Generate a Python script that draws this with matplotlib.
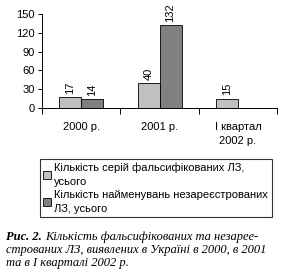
import numpy as np
import matplotlib.pyplot as plt

categories = ['2000 р.', '2001 р.', 'І квартал\n2002 р.']
series_falsified = [17, 40, 15]
series_unregistered = [14, 132, None]
labels = ['Кількість серій фальсифікованих ЛЗ,\nусього',
          'Кількість найменувань незареєстрованих\nЛЗ, усього']

plt.rcParams['font.family'] = ['Liberation Sans', 'DejaVu Sans']
plt.rcParams['font.size'] = 8

fig = plt.figure(figsize=(2.98, 2.76), dpi=100)
ax = fig.add_axes([0.141, 0.609, 0.789, 0.34])

x = np.arange(len(categories))
w = 0.28
vals2 = [v if v is not None else 0 for v in series_unregistered]
b1 = ax.bar(x - w / 2, series_falsified, w, color='#c0c0c0', edgecolor='black', linewidth=0.6)
b2 = ax.bar(x + w / 2, vals2, w, color='#808080', edgecolor='black', linewidth=0.6)

for rect, v in zip(b1, series_falsified):
    ax.text(rect.get_x() + rect.get_width() / 2, v + 5, str(v), rotation=90,
            ha='center', va='bottom', fontsize=8)
for rect, v in zip(b2, series_unregistered):
    if v is None:
        continue
    ax.text(rect.get_x() + rect.get_width() / 2, v + 5, str(v), rotation=90,
            ha='center', va='bottom', fontsize=8)

ax.set_xlim(-0.5, 2.5)
ax.set_ylim(0, 150)
ax.set_yticks([0, 30, 60, 90, 120, 150])
ax.set_xticks([-0.5, 0.5, 1.5, 2.5])
ax.set_xticklabels([])
ax.set_xticks(x, minor=True)
ax.set_xticklabels(categories, minor=True, linespacing=1.5, va='top')
ax.tick_params(axis='x', which='minor', length=0, pad=10)
ax.tick_params(axis='x', which='major', length=4, direction='out', width=0.7)
ax.tick_params(axis='y', length=3, width=0.7, pad=2)
ax.spines['top'].set_visible(False)
ax.spines['right'].set_visible(False)
ax.spines['left'].set_linewidth(0.7)
ax.spines['bottom'].set_linewidth(0.7)

leg = fig.legend([b1, b2], labels, loc='upper left', bbox_to_anchor=(0.134, 0.424),
                 frameon=True, fancybox=False, edgecolor='black', fontsize=8,
                 handlelength=0.7, handleheight=0.7, handletextpad=0.3,
                 borderpad=0.3, labelspacing=0.3, borderaxespad=0)
leg.get_frame().set_linewidth(0.8)
for t in leg.get_texts():
    t.set_linespacing(1.5)

cap_font = ['Liberation Serif', 'DejaVu Serif']
head = fig.text(0.02, 0.13, 'Рис. 2.', fontsize=9, family=cap_font,
                style='italic', weight='bold')
fig.canvas.draw()
bb = head.get_window_extent().transformed(fig.transFigure.inverted())
fig.text(bb.x1 + 0.012, 0.13, 'Кількість фальсифікованих та незарее-', fontsize=9,
         family=cap_font, style='italic')
fig.text(0.02, 0.083, 'строваних ЛЗ, виявлених в Україні в 2000, в 2001', fontsize=9,
         family=cap_font, style='italic')
fig.text(0.02, 0.036, 'та в І кварталі 2002 р.', fontsize=9,
         family=cap_font, style='italic')

fig.savefig('out.png', dpi=100)
